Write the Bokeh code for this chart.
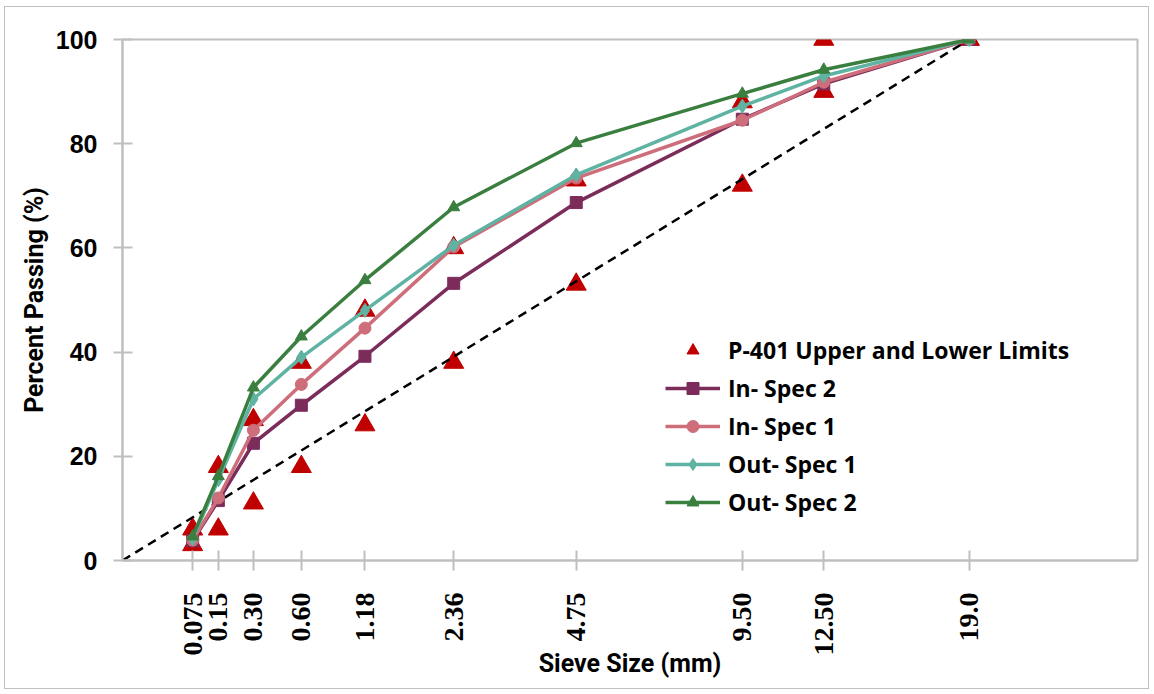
from bokeh.plotting import figure
from bokeh.models import FixedTicker, Legend, LegendItem, ColumnDataSource
from bokeh.embed import file_html
from bokeh.resources import INLINE
import math

# ---- data ----
sieve_sizes = [0.075, 0.15, 0.30, 0.60, 1.18, 2.36, 4.75, 9.50, 12.50, 19.0]
tick_labels = ["0.075", "0.15", "0.30", "0.60", "1.18", "2.36", "4.75", "9.50", "12.50", "19.0"]

p401_lower = [3, 6, 11, 18, 26, 38, 53, 72, 90, 100]
p401_upper = [6, 18, 27, 38, 48, 60, 73, 88, 100, 100]

in_spec_2 = [3.8, 11.5, 22.5, 29.8, 39.2, 53.2, 68.7, 84.7, 91.5, 100]
in_spec_1 = [3.9, 12.0, 25.0, 33.8, 44.6, 60.2, 73.4, 84.5, 91.8, 100]
out_spec_1 = [4.2, 15.5, 31.0, 39.0, 48.0, 60.5, 74.0, 87.2, 93.0, 100]
out_spec_2 = [4.6, 16.2, 33.2, 43.0, 53.8, 67.8, 80.1, 89.6, 94.2, 100]

POWER = 0.45
xpos = [round(s ** POWER, 6) for s in sieve_sizes]
xmax_line = [0, round(19.0 ** POWER, 6)]
ymax_line = [0, 100]

W, H = 1145, 683
p = figure(width=W, height=H, output_backend="svg", toolbar_location=None,
           x_range=(0, 4.51), y_range=(0, 100),
           min_border_left=117, min_border_right=13, min_border_top=32, min_border_bottom=130)
p.styles = {"border": "1px solid #BFBFBF", "margin-left": "4px", "margin-top": "6px"}
p.xgrid.visible = False
p.ygrid.visible = False
p.outline_line_color = "#BFBFBF"
p.outline_line_width = 2
p.background_fill_color = "white"
p.border_fill_color = "white"

# axes
p.xaxis.ticker = FixedTicker(ticks=xpos)
p.xaxis.major_label_overrides = {x: t for x, t in zip(xpos, tick_labels)}
p.xaxis.major_label_orientation = math.pi / 2
p.xaxis.major_label_text_font = "Liberation Serif"
p.xaxis.major_label_text_font_style = "bold"
p.xaxis.major_label_text_font_size = "28px"
p.xaxis.major_label_text_color = "black"
p.xaxis.major_label_standoff = 22
p.xaxis.minor_tick_line_color = None
p.xaxis.major_tick_in = 10
p.xaxis.major_tick_out = 10
p.xaxis.axis_label = "Sieve Size (mm)"
p.xaxis.axis_label_text_font = "Roboto"
p.xaxis.axis_label_text_font_style = "bold"
p.xaxis.axis_label_text_font_size = "25px"
p.xaxis.axis_label_text_color = "black"
p.xaxis.axis_label_standoff = -10

p.yaxis.ticker = FixedTicker(ticks=[0, 20, 40, 60, 80, 100])
p.yaxis.major_label_text_font = "Liberation Sans"
p.yaxis.major_label_text_font_style = "bold"
p.yaxis.major_label_text_font_size = "25px"
p.yaxis.major_label_text_color = "black"
p.yaxis.major_label_standoff = 16
p.yaxis.minor_tick_line_color = None
p.yaxis.major_tick_in = 10
p.yaxis.major_tick_out = 9
p.yaxis.axis_label = "Percent Passing (%)"
p.yaxis.axis_label_text_font = "Roboto"
p.yaxis.axis_label_text_font_style = "bold"
p.yaxis.axis_label_text_font_size = "25px"
p.yaxis.axis_label_text_color = "black"
p.yaxis.axis_label_standoff = 4

for ax in (p.xaxis, p.yaxis):
    ax.axis_line_color = "#BFBFBF"
    ax.axis_line_width = 2
    ax.major_tick_line_color = "#BFBFBF"
    ax.major_tick_line_width = 2

RED = "#C00000"
tri_x = xpos + xpos
tri_y = p401_lower + p401_upper
r_lim = p.scatter(tri_x, tri_y, marker="triangle", size=20, color=RED)

p.line(xmax_line, ymax_line, line_color="black", line_width=2.5, line_dash="9 6")

series = [
    ("In- Spec 2", in_spec_2, "#7B2C5B", "square", 12),
    ("In- Spec 1", in_spec_1, "#CD6E7A", "circle", 12),
    ("Out- Spec 1", out_spec_1, "#5FB3A2", "diamond", 14),
    ("Out- Spec 2", out_spec_2, "#3A7F3F", "triangle", 12),
]
items = [LegendItem(label="P-401 Upper and Lower Limits", renderers=[r_lim])]
for name, vals, col, mk, sz in series:
    src = ColumnDataSource(dict(x=xpos, y=vals))
    rl = p.line("x", "y", source=src, line_color=col, line_width=3.5)
    rs = p.scatter("x", "y", source=src, marker=mk, size=sz, color=col)
    items.append(LegendItem(label=name, renderers=[rl, rs]))

legend = Legend(items=items, location=(543, 42), padding=0, margin=0,
                spacing=6, glyph_width=55, glyph_height=30, label_height=30,
                label_standoff=8, border_line_color=None, background_fill_alpha=0,
                label_text_font="Open Sans", label_text_font_style="bold",
                label_text_font_size="23px", label_text_color="black")
p.add_layout(legend, "center")

open("out.html", "w").write(file_html(p, INLINE))
